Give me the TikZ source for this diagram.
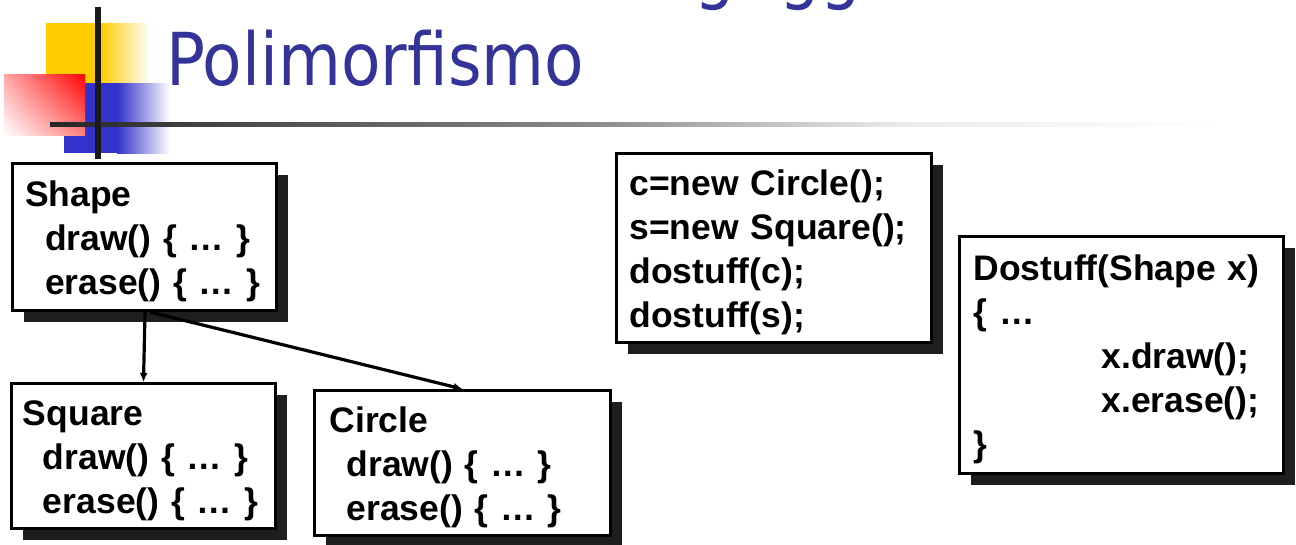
\documentclass[tikz,border=0pt]{standalone}
\usepackage{fontspec}
\setmainfont{Liberation Sans}
\newfontfamily\titlefont{DejaVu Sans}
\usetikzlibrary{shadows,shadings,arrows.meta}
\definecolor{titleblue}{HTML}{333399}
\definecolor{decoyellow}{HTML}{FFCC00}
\definecolor{decoblue}{HTML}{3333CC}
\definecolor{shadowgray}{HTML}{1E1E1E}
\definecolor{crossline}{HTML}{1A1A1A}
\newcommand{\topstrut}{\rule{0pt}{35pt}}
\begin{document}
\begin{tikzpicture}[x=1pt,y=-1pt,
  codebox/.style={draw=black, line width=3pt, fill=white, rectangle, inner ysep=0pt,
    align=left, font=\bfseries\fontsize{35.5}{44}\selectfont,
    drop shadow={shadow xshift=11pt, shadow yshift=-11pt, fill=shadowgray, opacity=1}},
  arr/.style={line width=3.2pt, -{Latex[length=9pt,width=8pt]}},
  titletext/.style={inner sep=0pt, anchor=base west, text=titleblue,
    font=\titlefont\fontsize{73}{80}\selectfont},
]
\useasboundingbox (0,0) rectangle (1296,544);
% cut-off first title line (only descenders visible)
\begin{scope}
  \clip (0,0) rectangle (1296,544);
  \node[titletext] (tg1) at (694,-5) {\scalebox{0.88}[1]{g}};
  \node[titletext] (tg2) at (779,-5) {\scalebox{0.88}[1]{gg}};
\end{scope}
% decoration
\fill[decoyellow] (46,23) rectangle (101,83);
\shade[left color=decoyellow, right color=white] (100,23) rectangle (150,83);
\fill[decoblue] (64,83) rectangle (118,153);
\shade[left color=decoblue, right color=white] (117,83) rectangle (170,153);
\shade[upper right=red, lower left=white, upper left=red!35, lower right=red!50] (4,74) rectangle (85,135);
\shade[left color=black!85, right color=black!45] (50,122.5) rectangle (600,126.5);
\shade[left color=black!45, right color=black!8] (599,122.5) rectangle (900,126.5);
\shade[left color=black!8, right color=white] (899,122.5) rectangle (1220,126.5);
\draw[crossline, line width=6pt] (97.5,7) -- (97.5,159);
% title
\node[titletext] (title) at (166,85) {\scalebox{0.885}[1]{Polimorfismo}};
% boxes
\node[codebox, minimum width=264pt, minimum height=147pt, inner xsep=12.5pt, text width=239pt] (shape) at (144.5,237)
  {\topstrut Shape\\\hspace*{20pt}draw() \{ … \}\\\hspace*{20pt}erase() \{ … \}};
\node[codebox, minimum width=264pt, minimum height=145pt, inner xsep=11.5pt, text width=241pt] (square) at (143.5,456)
  {\topstrut Square\\\hspace*{20pt}draw() \{ … \}\\\hspace*{20pt}erase() \{ … \}};
\node[codebox, minimum width=296pt, minimum height=145pt, inner xsep=15pt, text width=266pt] (circle) at (462.5,463)
  {\topstrut Circle\\\hspace*{17pt}draw() \{ … \}\\\hspace*{17pt}erase() \{ … \}};
\node[codebox, minimum width=315pt, minimum height=189pt, inner xsep=13pt, text width=289pt] (code) at (774,248)
  {\topstrut c=new Circle();\\s=new Square();\\dostuff(c);\\dostuff(s);};
\node[codebox, minimum width=324pt, minimum height=237pt, inner xsep=14pt, text width=296pt] (dostuff) at (1121.5,355)
  {\topstrut Dostuff(Shape x)\\\{ …\\\hspace*{128pt}x.draw();\\\hspace*{128pt}x.erase();\\\}};
% connectors
\draw[arr] ([xshift=0.5pt]shape.south) -- ([xshift=-1pt]shape.south |- square.north);
\draw[arr] ([xshift=5.5pt]shape.south) -- (circle.north);
\end{tikzpicture}
\end{document}
